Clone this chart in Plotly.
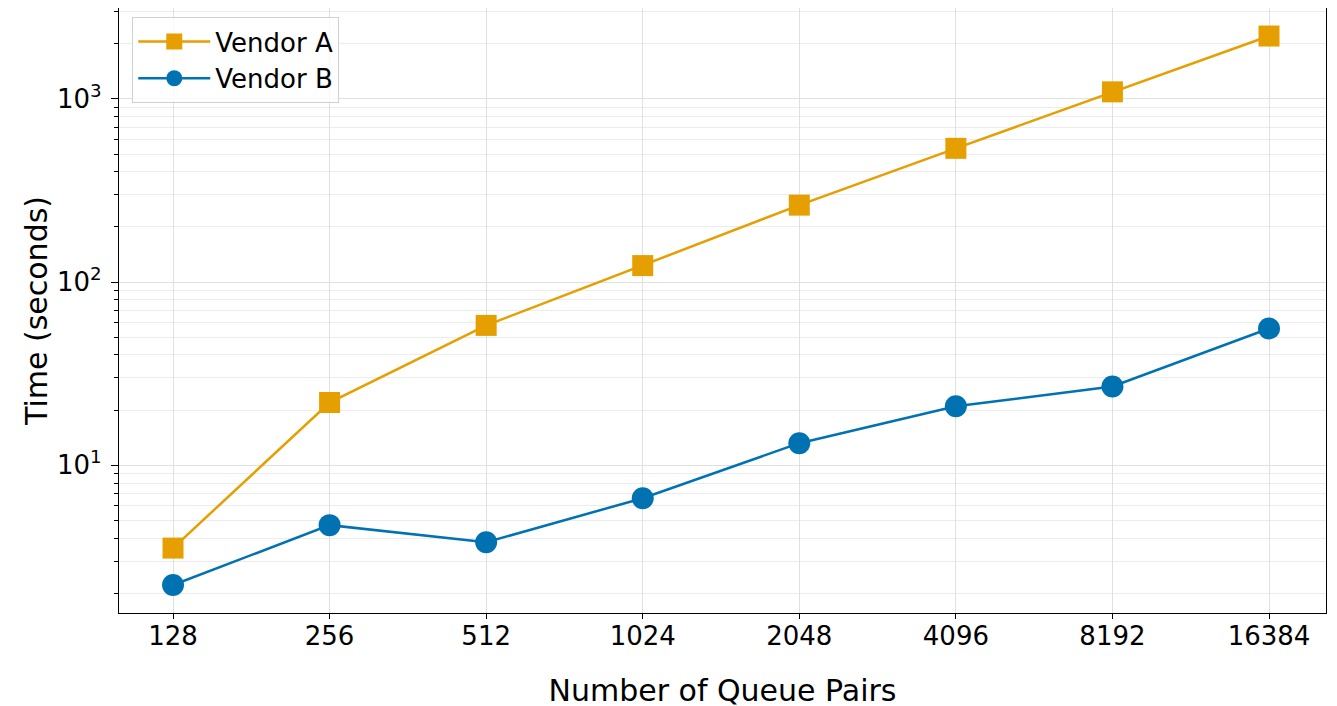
import plotly.graph_objects as go
import math

queue_pairs = [128, 256, 512, 1024, 2048, 4096, 8192, 16384]
tick_labels = ["128", "256", "512", "1024", "2048", "4096", "8192", "16384"]
vendor_a = [3.53, 22.0, 58.0, 123.0, 263.0, 537.0, 1092.0, 2203.0]
vendor_b = [2.22, 4.71, 3.80, 6.61, 13.2, 21.0, 26.9, 55.8]
y_tick_vals = [10, 100, 1000]
y_tick_text = ["10<sup>1</sup>", "10<sup>2</sup>", "10<sup>3</sup>"]

FONT = "DejaVu Sans"

fig = go.Figure()
fig.add_trace(go.Scatter(
    x=queue_pairs, y=vendor_a, name="Vendor A", mode="lines+markers",
    line=dict(color="#E69F00", width=2.5),
    marker=dict(symbol="square", size=21, color="#E69F00"),
))
fig.add_trace(go.Scatter(
    x=queue_pairs, y=vendor_b, name="Vendor B", mode="lines+markers",
    line=dict(color="#0072B2", width=2.5),
    marker=dict(symbol="circle", size=22, color="#0072B2"),
))

fig.update_layout(
    width=1337, height=706,
    margin=dict(l=111, r=19, t=0, b=101, autoexpand=False),
    paper_bgcolor="white", plot_bgcolor="white",
    font=dict(family=FONT, color="black", size=24),
    showlegend=True,
    legend=dict(
        x=0.011, y=0.985, xanchor="left", yanchor="top",
        bgcolor="rgba(255,255,255,0.8)", bordercolor="#d0d0d0", borderwidth=1,
        font=dict(family=FONT, size=26), tracegroupgap=0, itemwidth=72,
    ),
)

fig.update_xaxes(
    type="log",
    range=[math.log10(2 ** 6.655), math.log10(2 ** 14.364)],
    tickvals=queue_pairs, ticktext=tick_labels,
    ticks="outside", ticklen=5, tickwidth=1.2, tickcolor="black",
    ticklabelstandoff=-5,
    showgrid=True, gridcolor="#e0e0e0", gridwidth=1,
    showline=True, linecolor="black", linewidth=1.2, mirror=True,
    zeroline=False, automargin=False,
    title=dict(text="Number of Queue Pairs", font=dict(size=30, family=FONT), standoff=29),
    tickfont=dict(size=26, family=FONT),
)
fig.update_yaxes(
    type="log",
    range=[0.1935, 3.496],
    tickvals=y_tick_vals, ticktext=y_tick_text,
    ticks="outside", ticklen=7, tickwidth=1.2, tickcolor="black",
    ticklabelstandoff=4,
    showgrid=True, gridcolor="#e0e0e0", gridwidth=1,
    minor=dict(dtick="D1", showgrid=True, gridcolor="#ececec", gridwidth=1, ticks="outside",
               ticklen=4, tickcolor="black", tickwidth=1),
    showline=True, linecolor="black", linewidth=1.2, mirror=True,
    zeroline=False, automargin=False,
    title=dict(text="Time (seconds)", font=dict(size=30, family=FONT), standoff=0),
    tickfont=dict(size=26, family=FONT),
)

fig.write_html("out.html")
